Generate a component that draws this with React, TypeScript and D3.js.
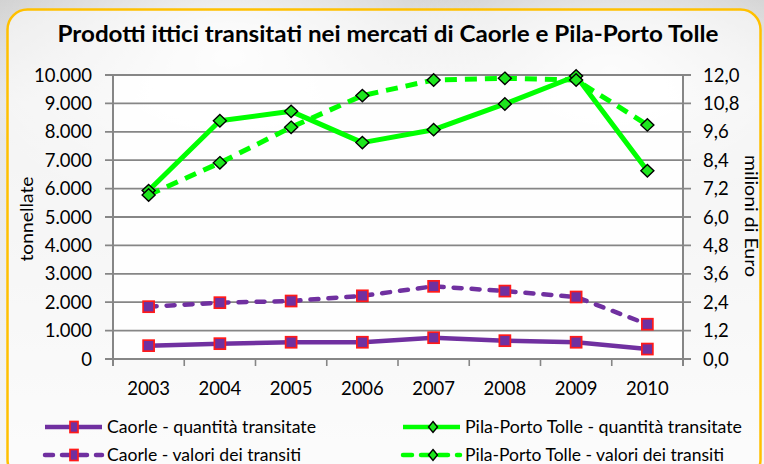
import React from "react";
import * as d3 from "d3";

const years = ["2003", "2004", "2005", "2006", "2007", "2008", "2009", "2010"];
const caorleQuantita = [470, 540, 590, 590, 750, 645, 590, 350];
const caorleValori = [2.21, 2.38, 2.45, 2.67, 3.07, 2.87, 2.62, 1.47];
const pilaQuantita = [5930, 8390, 8720, 7620, 8075, 8980, 9965, 6630];
const pilaValori = [6.93, 8.29, 9.79, 11.13, 11.79, 11.86, 11.79, 9.89];
const leftTicks = [0, 1000, 2000, 3000, 4000, 5000, 6000, 7000, 8000, 9000, 10000];
const rightTicks = [0, 1.2, 2.4, 3.6, 4.8, 6.0, 7.2, 8.4, 9.6, 10.8, 12.0];

const title = "Prodotti ittici transitati nei mercati di Caorle e Pila-Porto Tolle";
const legendLabels = [
  "Caorle - quantità transitate",
  "Pila-Porto Tolle - quantità transitate",
  "Caorle - valori dei transiti",
  "Pila-Porto Tolle - valori dei transiti",
];

const W = 764;
const H = 464;
const L = 113, R = 683, T = 75, B = 359;

const locale = d3.formatLocale({ decimal: ",", thousands: ".", grouping: [3], currency: ["", "€"] });
const fmtL = locale.format(",.0f");
const fmtR = locale.format(".1f");

const PURPLE = "#7030a0";
const GREEN = "#00ff00";
const DIAMOND = "#1ee61e";
const GRID = "#868686";
const FONT = "Lato, 'Liberation Sans Narrow', sans-serif";

function Square({ cx, cy, w = 11, h = 11 }: { cx: number; cy: number; w?: number; h?: number }) {
  return <rect x={cx - w / 2} y={cy - h / 2} width={w} height={h} fill={PURPLE} stroke="#ff1a1a" strokeWidth={1.7} />;
}
function Diamond({ cx, cy, rx = 6.5, ry = 6.2 }: { cx: number; cy: number; rx?: number; ry?: number }) {
  return (
    <path d={`M${cx},${cy - ry}L${cx + rx},${cy}L${cx},${cy + ry}L${cx - rx},${cy}Z`} fill={DIAMOND} stroke="#000" strokeWidth={1.4} />
  );
}

export default function App() {
  const x = d3.scaleBand<string>().domain(years).range([L, R]);
  const cx = (y: string) => (x(y) as number) + x.bandwidth() / 2;
  const yL = d3.scaleLinear().domain([0, 10000]).range([B, T]);
  const yR = d3.scaleLinear().domain([0, 12]).range([B, T]);

  const lineL = d3.line<number>().x((_, i) => cx(years[i])).y((v) => yL(v));
  const lineR = d3.line<number>().x((_, i) => cx(years[i])).y((v) => yR(v));

  const legendItems = [
    { x: 45, tx: 107, y: 427, len: 209, color: PURPLE, dash: undefined, marker: "sq", label: legendLabels[0] },
    { x: 403, tx: 465, y: 427, len: 277, color: GREEN, dash: undefined, marker: "di", label: legendLabels[1] },
    { x: 45, tx: 107, y: 455, len: 194, color: PURPLE, dash: "8 9", marker: "sq", label: legendLabels[2] },
    { x: 403, tx: 465, y: 455, len: 259, color: GREEN, dash: "9 9", marker: "di", label: legendLabels[3] },
  ];

  return (
    <svg width={W} height={H} style={{ position: "absolute", left: 0, top: 0 }} fontFamily={FONT}>
      <defs>
        <linearGradient id="bg" x1="0" y1="0" x2="0" y2="1">
          <stop offset="0" stopColor="#cfcfcf" />
          <stop offset="0.22" stopColor="#e6e6e6" />
          <stop offset="1" stopColor="#f6f6f6" />
        </linearGradient>
        <radialGradient id="glow1" cx="0.3" cy="0.12" r="0.35">
          <stop offset="0" stopColor="#ffffff" stopOpacity="0.9" />
          <stop offset="1" stopColor="#ffffff" stopOpacity="0" />
        </radialGradient>
        <radialGradient id="glow2" cx="0.8" cy="0.15" r="0.3">
          <stop offset="0" stopColor="#ffffff" stopOpacity="0.8" />
          <stop offset="1" stopColor="#ffffff" stopOpacity="0" />
        </radialGradient>
      </defs>
      <rect x={0} y={0} width={W} height={H} fill="url(#bg)" />
      <rect x={0} y={0} width={W} height={H} fill="url(#glow1)" />
      <rect x={0} y={0} width={W} height={H} fill="url(#glow2)" />
      <rect x={7.5} y={9.5} width={753} height={470} rx={20} ry={20} fill="#ffffff" fillOpacity={0.55} stroke="#ffc000" strokeWidth={2.5} />

      <text x={388} y={42} textAnchor="middle" fontSize={23} fontWeight="bold" fill="#000" textLength={661} lengthAdjust="spacingAndGlyphs">
        {title}
      </text>

      <rect x={L} y={T} width={R - L} height={B - T} fill="#ffffff" fillOpacity={0.85} />

      {leftTicks.map((t) => (
        <line key={"g" + t} x1={L - 8} x2={R + 8} y1={yL(t)} y2={yL(t)} stroke={GRID} strokeWidth={1.8} />
      ))}
      <line x1={L} x2={L} y1={T} y2={B + 7} stroke={GRID} strokeWidth={2} />
      <line x1={R} x2={R} y1={T} y2={B + 7} stroke={GRID} strokeWidth={2} />
      <line x1={L} x2={R} y1={B} y2={B} stroke={GRID} strokeWidth={2} />
      {years.map((y) => (
        <line key={"xt" + y} x1={(x(y) as number) + x.bandwidth()} x2={(x(y) as number) + x.bandwidth()} y1={B} y2={B + 7} stroke={GRID} strokeWidth={1.6} />
      ))}

      {leftTicks.map((t) => (
        <text key={"lt" + t} x={92} y={yL(t)} dy="0.36em" textAnchor="end" fontSize={18.5} fill="#000">
          {fmtL(t)}
        </text>
      ))}
      {rightTicks.map((t) => (
        <text key={"rt" + t} x={703} y={yR(t)} dy="0.36em" textAnchor="start" fontSize={18.5} fill="#000">
          {fmtR(t)}
        </text>
      ))}
      {years.map((y) => (
        <text key={"yl" + y} x={cx(y)} y={394.5} textAnchor="middle" fontSize={18.5} fill="#000">
          {y}
        </text>
      ))}

      <text transform="translate(33,219) rotate(-90)" textAnchor="middle" fontSize={18} fill="#000" textLength={85} lengthAdjust="spacingAndGlyphs">
        tonnellate
      </text>
      <text transform="translate(745,216) rotate(90)" textAnchor="middle" fontSize={17.5} fill="#000" textLength={122} lengthAdjust="spacingAndGlyphs">
        milioni di Euro
      </text>

      <path d={lineL(pilaQuantita) || ""} fill="none" stroke={GREEN} strokeWidth={5} strokeLinejoin="round" />
      <path d={lineR(pilaValori) || ""} fill="none" stroke={GREEN} strokeWidth={5} strokeDasharray="12 8" />
      <path d={lineL(caorleQuantita) || ""} fill="none" stroke={PURPLE} strokeWidth={4.5} strokeLinejoin="round" />
      <path d={lineR(caorleValori) || ""} fill="none" stroke={PURPLE} strokeWidth={4.5} strokeDasharray="8 10" strokeLinecap="round" />

      {pilaQuantita.map((v, i) => <Diamond key={"pq" + i} cx={cx(years[i])} cy={yL(v)} />)}
      {pilaValori.map((v, i) => <Diamond key={"pv" + i} cx={cx(years[i])} cy={yR(v)} />)}
      {caorleQuantita.map((v, i) => <Square key={"cq" + i} cx={cx(years[i])} cy={yL(v)} />)}
      {caorleValori.map((v, i) => <Square key={"cv" + i} cx={cx(years[i])} cy={yR(v)} />)}

      {legendItems.map((it, i) => (
        <g key={"lg" + i}>
          <line x1={it.x} x2={it.x + 57} y1={it.y} y2={it.y} stroke={it.color} strokeWidth={4.5} strokeDasharray={it.dash} strokeLinecap={it.dash ? "round" : "butt"} />
          {it.marker === "sq" ? (
            <Square cx={it.x + 29} cy={it.y} w={8} h={11} />
          ) : (
            <Diamond cx={it.x + 30} cy={it.y} rx={4.5} ry={5.5} />
          )}
          <text x={it.tx} y={it.y} dy="0.36em" fontSize={17.5} fill="#000" textLength={it.len} lengthAdjust="spacingAndGlyphs">
            {it.label}
          </text>
        </g>
      ))}
    </svg>
  );
}
